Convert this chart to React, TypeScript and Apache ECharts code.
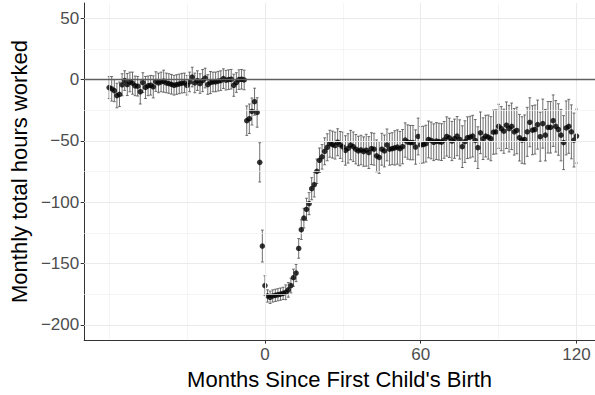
import React, { useEffect, useRef } from "react";
import * as echarts from "echarts";

// Event-study estimates: months relative to the first birth, -60 .. 120
const firstMonth = -60;

// Point estimates (monthly hours relative to the omitted baseline)
const estimates: number[] = [
  // -60 .. -8
  -6.5, -7.5, -9.0, -13.0, -12.0, -4.2, -0.8, -4.0, -1.9, -2.9,
  -5.1, -5.4, -9.9, -2.4, -6.4, -5.1, -4.6, -5.9, -1.6, -2.7,
  -1.9, -1.3, -2.7, -3.2, -3.8, -4.6, -4.0, -3.5, -2.9, -2.7,
  -4.6, -1.9, 2.1, -2.7, -0.8, -3.2, -0.8, 1.3, -4.0, -2.4,
  -1.9, -1.9, -1.3, -0.8, 0.8, -0.5, 0.0, 0.3, -4.6, -2.4,
  0.0, 0.3, -0.3,
  // -7 .. 0
  -33.5, -31.9, -26.0, -18.0, -26.8, -67.5, -135.8, -168.0,
  // 1 .. 10
  -176.5, -177.6, -176.5, -176.0, -175.5, -175.0, -174.4, -173.5, -171.5, -168.0,
  // 11 .. 20
  -161.6, -157.8, -137.7, -122.4, -113.0, -105.8, -101.2, -89.0, -85.7, -74.8,
  // 21 .. 30
  -65.8, -63.0, -58.5, -55.2, -52.3, -53.0, -53.8, -51.1, -53.3, -54.8,
  // 31 .. 40
  -57.8, -56.1, -53.4, -54.7, -56.8, -58.2, -57.4, -58.7, -57.6, -59.5,
  // 41 .. 50
  -56.3, -56.8, -62.2, -63.5, -56.8, -58.2, -53.3, -56.8, -56.3, -55.7,
  // 51 .. 60
  -55.0, -56.3, -54.7, -49.3, -50.9, -51.4, -51.4, -55.0, -46.4, -53.3,
  // 61 .. 70
  -53.0, -52.2, -48.8, -49.6, -51.1, -50.1, -50.6, -51.0, -49.2, -46.4,
  // 71 .. 80
  -47.5, -50.1, -48.2, -46.1, -48.8, -54.7, -50.6, -47.4, -46.9, -46.1,
  // 81 .. 90
  -49.6, -55.5, -43.4, -48.2, -46.1, -46.9, -48.2, -42.9, -42.6, -38.1,
  // 91 .. 100
  -40.0, -42.1, -37.2, -40.0, -38.1, -42.6, -41.5, -47.4, -49.3, -48.8,
  // 101 .. 110
  -42.6, -34.8, -41.3, -40.7, -36.7, -46.6, -35.9, -45.3, -38.9, -38.9,
  // 111 .. 120
  -33.5, -38.1, -40.7, -45.3, -51.4, -39.4, -38.1, -42.6, -49.3, -46.1,
];

// Half-width of each 95% confidence interval
const ciHalfWidth: number[] = [
  // -60 .. -8
  9, 10, 9, 10, 10, 9, 8, 9, 8, 9,
  8, 8, 10, 8, 9, 8, 8, 9, 8, 8,
  8, 9, 8, 8, 8, 8, 8, 8, 8, 8,
  8, 8, 8, 8, 8, 8, 9, 8, 8, 9,
  8, 8, 8, 8, 8, 8, 8, 8, 9, 8,
  8, 8, 8,
  // -7 .. 0
  12, 12, 11, 11, 12, 16, 13, 8,
  // 1 .. 10
  5, 5, 5, 5, 5, 5, 5, 6, 6, 6,
  // 11 .. 20
  7, 7, 8, 8, 8, 9, 9, 9, 10, 10,
  // 21 .. 30
  10, 10, 11, 11, 11, 11, 11, 11, 11, 12,
  // 31 .. 40
  12, 12, 12, 12, 12, 12, 12, 12, 13, 13,
  // 41 .. 50
  13, 13, 13, 13, 13, 13, 13, 13, 13, 14,
  // 51 .. 60
  14, 14, 14, 14, 14, 14, 14, 14, 15, 15,
  // 61 .. 70
  15, 15, 15, 15, 15, 15, 15, 15, 15, 16,
  // 71 .. 80
  16, 16, 16, 16, 16, 17, 17, 17, 17, 17,
  // 81 .. 90
  17, 17, 17, 17, 17, 18, 18, 18, 18, 18,
  // 91 .. 100
  18, 18, 19, 19, 19, 19, 19, 19, 19, 20,
  // 101 .. 110
  20, 20, 20, 20, 20, 20, 20, 21, 21, 21,
  // 111 .. 120
  21, 21, 21, 21, 22, 22, 22, 22, 22, 22,
];

const xTicks = [0, 60, 120];
const xMinorGrid = [-60, -30, 30, 90];
const yTicks = [-200, -150, -100, -50, 0, 50];
const yMinorGrid = [-175, -125, -75, -25, 25];

const FONT = "'Liberation Sans', Arial, Helvetica, sans-serif";

export default function App() {
  const ref = useRef<HTMLDivElement>(null);

  useEffect(() => {
    document.body.style.margin = "0";
    if (!ref.current) return;
    const chart = echarts.init(ref.current, undefined, { renderer: "svg" });

    const months = estimates.map((_, i) => firstMonth + i);
    const points = months.map((m, i) => [m, estimates[i]]);
    const bars = months.map((m, i) => [
      m,
      estimates[i] - ciHalfWidth[i],
      estimates[i] + ciHalfWidth[i],
    ]);

    const gridLine = (color: string, width: number) => ({
      color,
      width,
      type: "solid" as const,
    });

    const gridMarks = [
      ...yMinorGrid.map((v) => ({ yAxis: v, lineStyle: gridLine("#F0F0F0", 0.7) })),
      ...xMinorGrid.map((v) => ({ xAxis: v, lineStyle: gridLine("#F0F0F0", 0.7) })),
      ...yTicks.map((v) => ({ yAxis: v, lineStyle: gridLine("#EBEBEB", 1.1) })),
      ...xTicks.map((v) => ({ xAxis: v, lineStyle: gridLine("#EBEBEB", 1.1) })),
    ];

    chart.setOption({
      animation: false,
      grid: { left: 82, top: 3, width: 513, height: 343, containLabel: false },
      xAxis: {
        type: "value",
        min: -69.6,
        max: 127.1,
        name: "Months Since First Child's Birth",
        nameLocation: "middle",
        nameGap: 14,
        nameTextStyle: { fontFamily: FONT, fontSize: 22, color: "#000" },
        axisLine: { show: true, onZero: false, lineStyle: { color: "#333", width: 1 } },
        axisTick: { show: true, length: 3.5, customValues: xTicks, lineStyle: { color: "#333" } },
        axisLabel: {
          show: true,
          customValues: xTicks,
          margin: 6,
          color: "#4D4D4D",
          fontFamily: FONT,
          fontSize: 17,
        },
        splitLine: { show: false },
        minorSplitLine: { show: false },
      },
      yAxis: {
        type: "value",
        min: -212.5,
        max: 62.5,
        name: "Monthly total hours worked",
        nameLocation: "middle",
        nameRotate: 90,
        nameGap: 50,
        nameTextStyle: { fontFamily: FONT, fontSize: 22, color: "#000" },
        axisLine: { show: true, onZero: false, lineStyle: { color: "#333", width: 1 } },
        axisTick: { show: true, length: 3.5, customValues: yTicks, lineStyle: { color: "#333" } },
        axisLabel: {
          show: true,
          customValues: yTicks,
          margin: 5,
          color: "#4D4D4D",
          fontFamily: FONT,
          fontSize: 17,
          formatter: (v: number) => (v < 0 ? "\u2212" + Math.abs(v) : String(v)),
        },
        splitLine: { show: false },
        minorSplitLine: { show: false },
      },
      series: [
        {
          // panel grid
          type: "line",
          data: [],
          silent: true,
          z: 1,
          markLine: {
            silent: true,
            symbol: ["none", "none"],
            label: { show: false },
            emphasis: { disabled: true },
            data: gridMarks,
          },
        },
        {
          // reference line at zero
          type: "line",
          data: [],
          silent: true,
          z: 2,
          markLine: {
            silent: true,
            symbol: ["none", "none"],
            label: { show: false },
            emphasis: { disabled: true },
            data: [{ yAxis: 0, lineStyle: { color: "#5F5F5F", width: 1.4, type: "solid" } }],
          },
        },
        {
          // confidence intervals
          type: "custom",
          z: 3,
          silent: true,
          data: bars,
          encode: { x: 0, y: [1, 2] },
          renderItem: (_params: any, api: any) => {
            const x = api.value(0);
            const top = api.coord([x, api.value(2)]);
            const bot = api.coord([x, api.value(1)]);
            const cap = 1.4;
            const style = { stroke: "#555", lineWidth: 0.85 };
            return {
              type: "group",
              children: [
                { type: "line", shape: { x1: top[0], y1: top[1], x2: bot[0], y2: bot[1] }, style },
                { type: "line", shape: { x1: top[0] - cap, y1: top[1], x2: top[0] + cap, y2: top[1] }, style },
                { type: "line", shape: { x1: bot[0] - cap, y1: bot[1], x2: bot[0] + cap, y2: bot[1] }, style },
              ],
            };
          },
        },
        {
          // point estimates
          type: "scatter",
          z: 4,
          silent: true,
          data: points,
          symbol: "circle",
          symbolSize: 5.5,
          itemStyle: { color: "#000" },
        },
      ],
    });

    return () => chart.dispose();
  }, []);

  return <div ref={ref} style={{ width: 595, height: 395 }} />;
}
